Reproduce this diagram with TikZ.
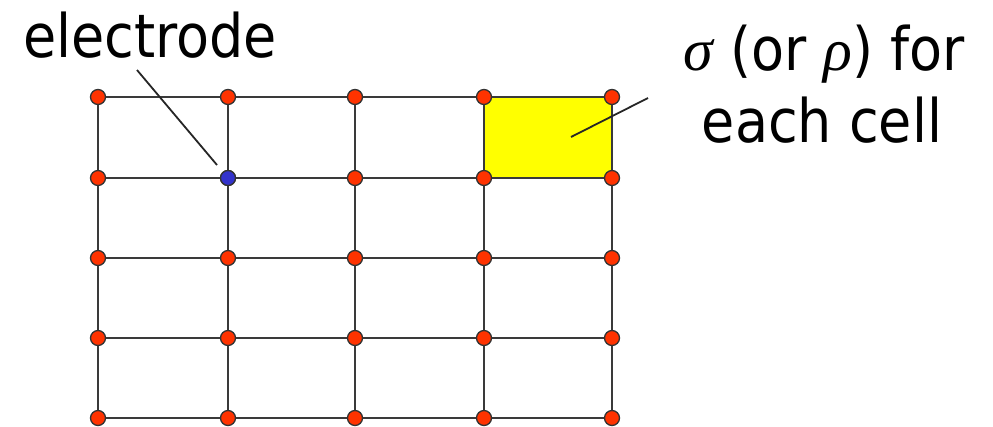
\documentclass[tikz,border=0pt]{standalone}
\usepackage{fontspec}
\setmainfont[FakeStretch=0.9]{DejaVu Sans}
\newfontfamily\greekfont{Liberation Serif}
\definecolor{gridline}{HTML}{3A3A3A}
\definecolor{dotred}{HTML}{FF3300}
\definecolor{dotblue}{HTML}{3333CC}
\definecolor{cellyellow}{HTML}{FFFF00}
\begin{document}
\begin{tikzpicture}[x=1pt,y=-1pt,
  gridl/.style={draw=gridline,line width=2.8pt},
  dotnode/.style={circle,draw=black!80,line width=1.3pt,fill=dotred,minimum size=15pt,inner sep=0pt},
  electrodenode/.style={dotnode,fill=dotblue},
  leader/.style={draw=black!85,line width=1.8pt},
  lbl/.style={font=\fontsize{60}{72}\selectfont,inner sep=0pt,align=center}]
\useasboundingbox (0,0) rectangle (993,426);
% grid coordinates
\foreach \i/\x in {1/98,2/228,3/355,4/484,5/612}{
  \foreach \j/\y in {1/97,2/178,3/258,4/338,5/418}{
    \coordinate (p-\i-\j) at (\x,\y);
  }
}
% yellow cell
\fill[cellyellow] (p-4-1) rectangle (p-5-2);
% grid lines
\foreach \j in {1,...,5}{ \draw[gridl] (p-1-\j) -- (p-5-\j); }
\foreach \i in {1,...,5}{ \draw[gridl] (p-\i-1) -- (p-\i-5); }
% dots
\foreach \i in {1,...,5}{
  \foreach \j in {1,...,5}{
    \node[dotnode] (d-\i-\j) at (p-\i-\j) {};
  }
}
\node[electrodenode] (el) at (p-2-2) {};
% labels
\node[lbl,anchor=base] (eltext) at (150,57) {electrode};
\node[lbl,anchor=base] (celltext1) at (824,70) {{\greekfont\itshape σ} (or {\greekfont\itshape ρ}) for};
\node[lbl,anchor=base] (celltext2) at (822,142) {each cell};
% leaders
\coordinate (elA) at (137,70);
\coordinate (elB) at (217,165);
\draw[leader] (elA) -- (elB);
\coordinate (cA) at (648,98);
\coordinate (cB) at (571,137);
\draw[leader] (cA) -- (cB);
\end{tikzpicture}
\end{document}
